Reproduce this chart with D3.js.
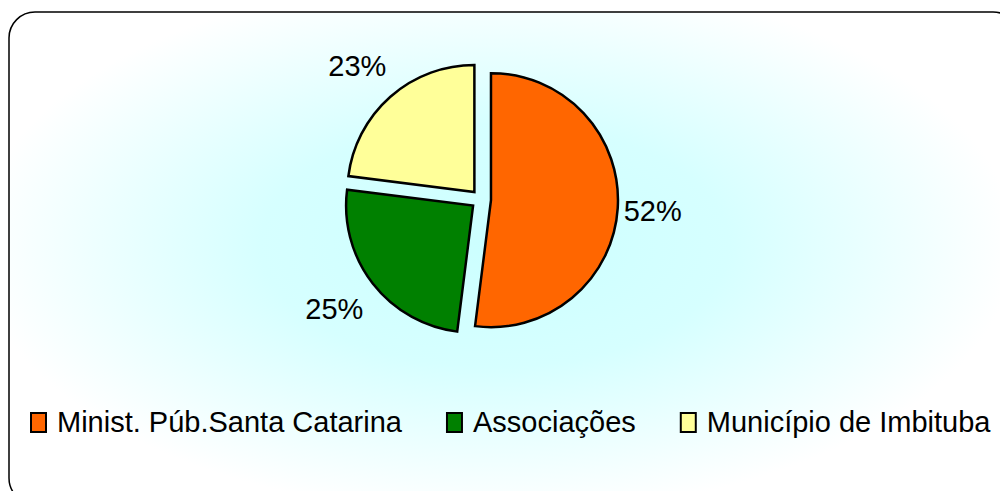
<!DOCTYPE html>
<html>
<head>
<meta charset="utf-8">
<script src="https://cdn.jsdelivr.net/npm/d3@7"></script>
<style>
  html, body { margin: 0; padding: 0; background: #ffffff; }
  svg { display: block; }
  text { font-family: Arial, "Liberation Sans", sans-serif; fill: #000; }
</style>
</head>
<body>
<svg id="chart" width="1000" height="491"></svg>
<script>
// ---- data ----
const categories = ["Minist. Púb.Santa Catarina", "Associações", "Município de Imbituba"];
const values = [52, 25, 23];
const colors = ["#FF6600", "#008000", "#FFFF99"];
const labels = ["52%", "25%", "23%"];

// ---- layout ----
const W = 1000, H = 491;
const cx = 481, cy = 199.5, R = 127, explode = 10, labelR = 168, labelShiftX = -6;
const fontSize = 29;

const svg = d3.select("#chart");
const defs = svg.append("defs");
const grad = defs.append("radialGradient")
  .attr("id", "bg")
  .attr("gradientUnits", "userSpaceOnUse")
  .attr("cx", 0).attr("cy", 0).attr("r", 1)
  .attr("gradientTransform", "translate(495,245) scale(520,270)");
grad.append("stop").attr("offset", "0%").attr("stop-color", "#ccffff");
grad.append("stop").attr("offset", "45%").attr("stop-color", "#d6ffff");
grad.append("stop").attr("offset", "100%").attr("stop-color", "#ffffff");

// chart area with rounded border
svg.append("rect")
  .attr("x", 9).attr("y", 12)
  .attr("width", 1010).attr("height", 492)
  .attr("rx", 26).attr("ry", 26)
  .attr("fill", "url(#bg)")
  .attr("stroke", "#000").attr("stroke-width", 1.5);

// pie
const pie = d3.pie().sort(null).value(d => d);
const arcs = pie(values);
const arc = d3.arc().innerRadius(0).outerRadius(R);

const g = svg.append("g").attr("transform", `translate(${cx},${cy})`);

function dirOf(a) {
  const m = (a.startAngle + a.endAngle) / 2;
  return [Math.sin(m), -Math.cos(m)];
}

g.selectAll("path.slice")
  .data(arcs)
  .join("path")
  .attr("class", "slice")
  .attr("d", arc)
  .attr("transform", d => {
    const [ux, uy] = dirOf(d);
    return `translate(${ux * explode},${uy * explode})`;
  })
  .attr("fill", (d, i) => colors[i])
  .attr("stroke", "#000")
  .attr("stroke-width", 2.5)
  .attr("stroke-linejoin", "miter");

g.selectAll("text.lbl")
  .data(arcs)
  .join("text")
  .attr("class", "lbl")
  .attr("x", d => dirOf(d)[0] * (labelR + explode) + labelShiftX)
  .attr("y", d => dirOf(d)[1] * (labelR + explode))
  .attr("dy", "0.36em")
  .attr("text-anchor", "middle")
  .attr("font-size", fontSize)
  .text((d, i) => labels[i]);

// legend
const legend = svg.append("g");
let lx = 31;
const sqW = 15, sqH = 19, sqY = 413, baseY = 432, textGap = 26, itemGap = 45;
categories.forEach((c, i) => {
  legend.append("rect")
    .attr("x", lx).attr("y", sqY)
    .attr("width", sqW).attr("height", sqH)
    .attr("fill", colors[i])
    .attr("stroke", "#000").attr("stroke-width", 2);
  const t = legend.append("text")
    .attr("x", lx + textGap).attr("y", baseY)
    .attr("font-size", fontSize)
    .text(c);
  const w = t.node().getComputedTextLength();
  lx = lx + textGap + w + itemGap;
});
</script>
</body>
</html>
